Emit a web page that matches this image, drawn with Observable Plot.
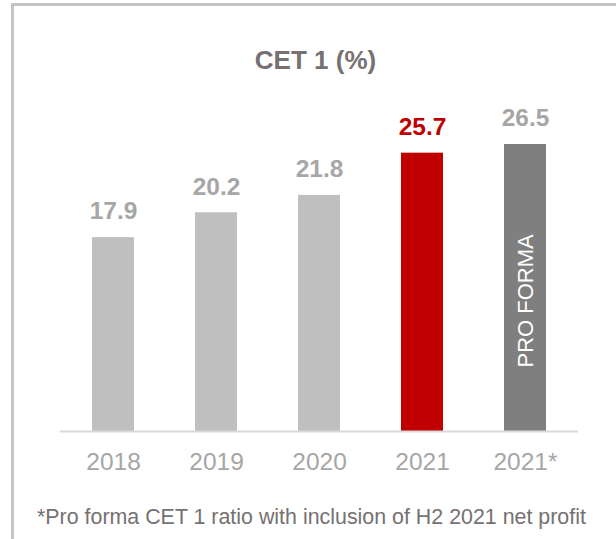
<!DOCTYPE html>
<html>
<head>
<meta charset="utf-8">
<script src="https://cdn.jsdelivr.net/npm/d3@7"></script>
<script src="https://cdn.jsdelivr.net/npm/@observablehq/plot@0.6"></script>
<style>
  html, body { margin: 0; padding: 0; background: #fff; }
  #wrap { position: relative; width: 616px; height: 539px; overflow: hidden; font-family: "Liberation Sans", Arial, sans-serif; }
  #frame { position: absolute; left: 11px; top: 3px; width: 900px; height: 900px; border-left: 3px solid #c4c4c4; border-top: 3px solid #c4c4c4; box-sizing: border-box; }
  #title { position: absolute; left: 0; width: 631px; top: 45px; text-align: center; font-weight: bold; font-size: 26px; color: #767171; line-height: 30px; }
  #chart { position: absolute; left: 0; top: 100px; }
  #note { position: absolute; left: 37px; top: 505px; font-size: 21.4px; color: #767171; line-height: 24px; white-space: nowrap; }
</style>
</head>
<body>
<div id="wrap">
  <div id="frame"></div>
  <div id="title">CET 1 (%)</div>
  <div id="chart"></div>
  <div id="note">*Pro forma CET 1 ratio with inclusion of H2 2021 net profit</div>
</div>
<script>
const categories = ["2018", "2019", "2020", "2021", "2021*"];
const values = [17.9, 20.2, 21.8, 25.7, 26.5];
const barColors = ["#bfbfbf", "#bfbfbf", "#bfbfbf", "#c00000", "#7f7f7f"];
const labelColors = ["#a6a6a6", "#a6a6a6", "#a6a6a6", "#c00000", "#a6a6a6"];
const proFormaLabel = "PRO FORMA";

const data = categories.map((c, i) => ({cat: c, value: values[i], fill: barColors[i], lab: labelColors[i]}));
const proForma = data.filter(d => d.cat === "2021*");

const chart = Plot.plot({
  width: 616,
  height: 380,
  marginTop: 44,
  marginBottom: 49,
  marginLeft: 60,
  marginRight: 38,
  style: {fontFamily: "'Liberation Sans', Arial, sans-serif", background: "transparent"},
  x: {domain: categories, paddingInner: 0.594, paddingOuter: 0.3, label: null},
  y: {domain: [0, 26.5], axis: null},
  marks: [
    Plot.barY(data, {x: "cat", y: "value", fill: d => d.fill}),
    Plot.ruleY([0], {stroke: "#d9d9d9", strokeWidth: 2}),
    Plot.text(data, {x: "cat", y: "value", text: d => d.value.toFixed(1), fill: d => d.lab,
      fontWeight: "bold", fontSize: 24.5, dy: -26}),
    Plot.text(proForma, {x: "cat", y: d => d.value * 0.455, text: () => proFormaLabel, rotate: -90,
      fill: "white", fontSize: 22}),
    Plot.axisX({tickSize: 0, tickPadding: 21, fontSize: 24.5, color: "#a6a6a6", label: null})
  ]
});
document.getElementById("chart").appendChild(chart);
</script>
</body>
</html>
